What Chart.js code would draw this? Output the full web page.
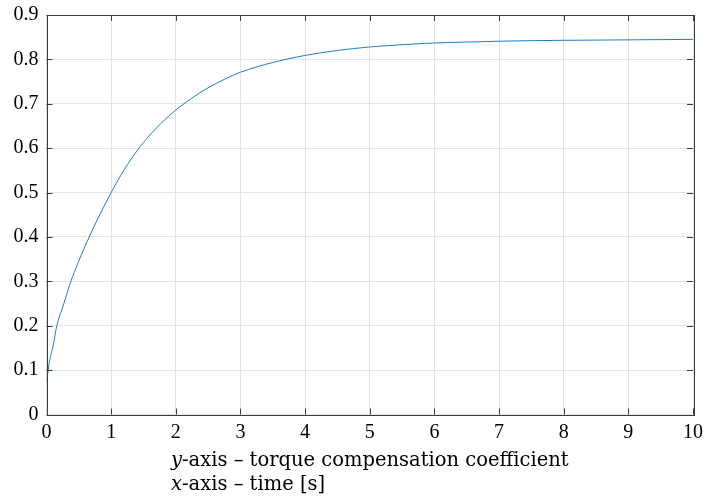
<!DOCTYPE html>
<html>
<head>
<meta charset="utf-8">
<script src="https://cdn.jsdelivr.net/npm/chart.js@4/dist/chart.umd.min.js"></script>
<style>
  body { margin: 0; background: #fff; }
  canvas { display: block; }
</style>
</head>
<body>
<canvas id="chart" width="708" height="498"></canvas>
<script>
// time [s]
const timeValues = [0, 0.01, 0.04, 0.1, 0.16, 0.26, 0.36, 0.45, 0.54, 0.67, 0.8, 1.0, 1.2, 1.4, 1.6, 1.8, 2.0,
    2.25, 2.5, 2.75, 3.0, 3.5, 4.0, 4.5, 5.0, 5.5, 6.0, 6.5, 7.0, 8.0, 9.0, 10.0];
// torque compensation coefficient
const coeffValues = [0.075, 0.082, 0.115, 0.153, 0.2, 0.246, 0.293, 0.328, 0.36, 0.403, 0.443, 0.5, 0.551, 0.594, 0.63, 0.66, 0.686,
    0.713, 0.736, 0.755, 0.771, 0.793, 0.809, 0.82, 0.828, 0.833, 0.837, 0.839, 0.841, 0.843, 0.844, 0.845];
const xTicks = [0, 1, 2, 3, 4, 5, 6, 7, 8, 9, 10];
const yTicks = [0, 0.1, 0.2, 0.3, 0.4, 0.5, 0.6, 0.7, 0.8, 0.9];
const captionLines = [
    ['y', '-axis \u2013 torque compensation coefficient'],
    ['x', '-axis \u2013 time [s]']
];

const serif = '"Liberation Serif", "DejaVu Serif", serif';
const captionFont = '"DejaVu Serif", serif';
const points = timeValues.map((t, i) => ({ x: t, y: coeffValues[i] }));

// box, inward ticks (matlab style) and the caption under the axes
const boxPlugin = {
    id: 'box',
    afterDraw(chart) {
        const ctx = chart.ctx;
        const a = chart.chartArea;
        const xs = chart.scales.x, ys = chart.scales.y;
        ctx.save();
        ctx.strokeStyle = '#3c3c3c';
        ctx.lineWidth = 1;
        ctx.beginPath();
        xTicks.forEach(v => {
            const px = Math.round(xs.getPixelForValue(v)) + 0.5;
            ctx.moveTo(px, a.bottom); ctx.lineTo(px, a.bottom - 6);
            ctx.moveTo(px, a.top); ctx.lineTo(px, a.top + 6);
        });
        yTicks.forEach(v => {
            const py = Math.round(ys.getPixelForValue(v)) + 0.5;
            ctx.moveTo(a.left, py); ctx.lineTo(a.left + 6, py);
            ctx.moveTo(a.right, py); ctx.lineTo(a.right - 6, py);
        });
        ctx.stroke();
        ctx.strokeRect(Math.round(a.left) + 0.5, Math.round(a.top) + 0.5,
            Math.round(a.right - a.left), Math.round(a.bottom - a.top));

        ctx.fillStyle = '#000';
        ctx.textBaseline = 'alphabetic';
        ctx.textAlign = 'left';
        captionLines.forEach((line, i) => {
            const y = 466 + i * 24;
            let x = 171;
            ctx.font = 'italic 19.5px ' + captionFont;
            ctx.fillText(line[0], x, y);
            x += ctx.measureText(line[0]).width;
            ctx.font = '19.5px ' + captionFont;
            ctx.fillText(line[1], x, y);
        });
        ctx.restore();
    }
};

new Chart(document.getElementById('chart').getContext('2d'), {
    type: 'line',
    data: {
        datasets: [{
            data: points,
            borderColor: '#1f7fc4',
            borderWidth: 1,
            pointRadius: 0,
            cubicInterpolationMode: 'monotone',
            fill: false
        }]
    },
    options: {
        responsive: false,
        animation: false,
        layout: { padding: { top: 15, right: 15, left: 0, bottom: 0 } },
        plugins: { legend: { display: false }, tooltip: { enabled: false } },
        scales: {
            x: {
                type: 'linear',
                min: 0,
                max: 10,
                afterFit: scale => { scale.height = 83.5; scale.paddingLeft = 0; scale.paddingRight = 0; },
                afterBuildTicks: scale => { scale.ticks = xTicks.map(v => ({ value: v })); },
                grid: { color: '#e3e3e3', drawTicks: false },
                border: { display: false },
                ticks: { color: '#000', padding: 6, font: { family: serif, size: 20 }, maxRotation: 0 }
            },
            y: {
                min: 0,
                max: 0.9,
                afterFit: scale => { scale.width = 46.5; scale.paddingTop = 0; scale.paddingBottom = 0; },
                afterBuildTicks: scale => { scale.ticks = yTicks.map(v => ({ value: v })); },
                grid: { color: '#e3e3e3', drawTicks: false },
                border: { display: false },
                ticks: {
                    color: '#000', padding: 8, font: { family: serif, size: 20 },
                    callback: v => String(+v.toFixed(1))
                }
            }
        }
    },
    plugins: [boxPlugin]
});
</script>
</body>
</html>
